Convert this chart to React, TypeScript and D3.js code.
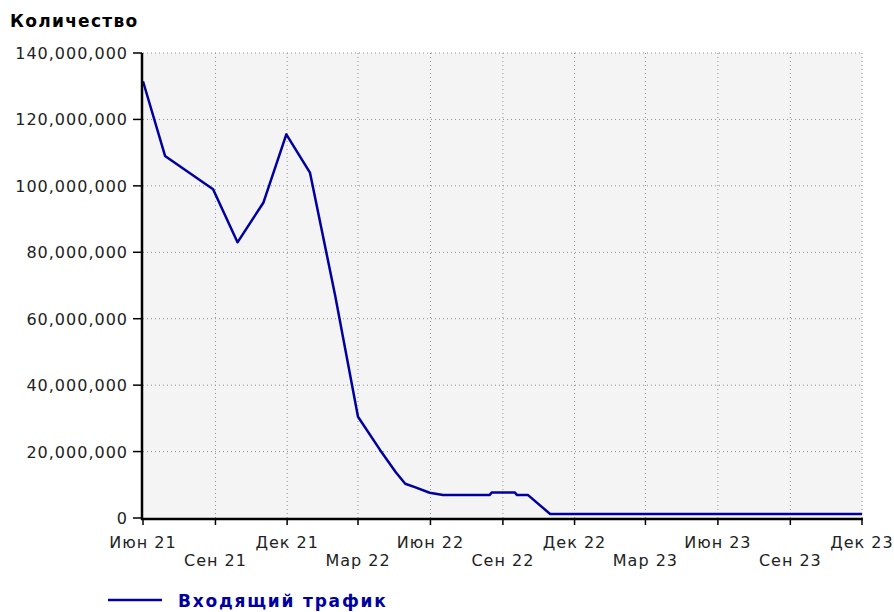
import * as d3 from 'd3';

const parseDay = d3.timeParse('%Y-%m-%d');

// monthly-ish readings of incoming traffic
const trafficDates = [
  '2021-06-01', '2021-06-29', '2021-08-29', '2021-09-29', '2021-11-01', '2021-11-30',
  '2021-12-30', '2022-01-31', '2022-03-01', '2022-03-29', '2022-04-18', '2022-04-30',
  '2022-05-13', '2022-05-31', '2022-06-17', '2022-08-15', '2022-08-18', '2022-09-16',
  '2022-09-19', '2022-10-03', '2022-10-31', '2023-12-01',
];
const trafficValues = [
  131500000, 109000000, 99000000, 83000000, 95000000, 115500000,
  104000000, 67000000, 30500000, 20500000, 13800000, 10300000,
  9200000, 7600000, 6900000, 6900000, 7700000, 7700000,
  6900000, 6900000, 1200000, 1200000,
];

const xTickLabels = [
  'Июн 21', 'Сен 21', 'Дек 21', 'Мар 22', 'Июн 22', 'Сен 22',
  'Дек 22', 'Мар 23', 'Июн 23', 'Сен 23', 'Дек 23',
];
const yTicks = [0, 20000000, 40000000, 60000000, 80000000, 100000000, 120000000, 140000000];

const seriesName = 'Входящий трафик';
const yTitle = 'Количество';

const width = 894;
const height = 612;
const margin = { left: 143, right: 32, top: 53, bottom: 94 };
const lineColor = '#0000a0';
const font = '"DejaVu Sans", Verdana, sans-serif';

export default function App() {
  const start = parseDay('2021-06-01')!;
  const end = parseDay('2023-12-01')!;
  const x = d3.scaleTime().domain([start, end]).range([margin.left, width - margin.right]);
  const y = d3.scaleLinear().domain([0, 140000000]).range([height - margin.bottom, margin.top]);

  const tickDates = d3.timeMonth.range(start, d3.timeDay.offset(end, 1), 3);
  const points = trafficDates.map((d, i) => ({ date: parseDay(d)!, value: trafficValues[i] }));

  const line = d3.line<{ date: Date; value: number }>()
    .x(d => x(d.date))
    .y(d => y(d.value));

  const fmt = d3.format(',');
  const [x0, x1] = x.range();
  const [y0, y1] = y.range();

  return (
    <div style={{ position: 'absolute', left: 0, top: 0 }}>
      <svg width={width} height={height} style={{ display: 'block', background: '#fff' }}>
        <text x={10} y={27} fontFamily={font} fontWeight="bold" fontSize={17} letterSpacing={1.3} fill="#000">
          {yTitle}
        </text>

        {/* plot background */}
        <rect x={x0} y={y1} width={x1 - x0} height={y0 - y1} fill="#f4f4f4" />

        {/* grid */}
        {yTicks.slice(1).map(t => (
          <line key={'gy' + t} x1={x0} x2={x1} y1={y(t)} y2={y(t)}
            stroke="#8c8c8c" strokeWidth={1} strokeDasharray="1,3" />
        ))}
        {tickDates.slice(1).map((d, i) => (
          <line key={'gx' + i} x1={x(d)} x2={x(d)} y1={y1} y2={y0}
            stroke="#8c8c8c" strokeWidth={1} strokeDasharray="1,3" />
        ))}

        {/* data */}
        <path d={line(points) || ''} fill="none" stroke={lineColor} strokeWidth={2.5} strokeLinejoin="round" />

        {/* axes */}
        <line x1={x0 - 1} x2={x0 - 1} y1={y1} y2={y0 + 2} stroke="#000" strokeWidth={2.5} />
        <line x1={x0 - 2} x2={x1 + 1} y1={y0 + 1} y2={y0 + 1} stroke="#000" strokeWidth={2.5} />

        {yTicks.map(t => (
          <g key={'yt' + t}>
            <line x1={x0 - 10} x2={x0 - 1} y1={y(t)} y2={y(t)} stroke="#000" strokeWidth={1.5} />
            <text x={x0 - 15} y={y(t) + 6} textAnchor="end" fontFamily={font} fontSize={16}
              letterSpacing={1} fill="#222">
              {fmt(t)}
            </text>
          </g>
        ))}

        {tickDates.map((d, i) => (
          <g key={'xt' + i}>
            <line x1={x(d)} x2={x(d)} y1={y0 + 1} y2={y0 + 7} stroke="#000" strokeWidth={1.5} />
            <text x={x(d)} y={i % 2 === 0 ? y0 + 30 : y0 + 48} textAnchor="middle" fontFamily={font}
              fontSize={16} letterSpacing={1} fill="#222">
              {xTickLabels[i]}
            </text>
          </g>
        ))}

        {/* legend */}
        <line x1={108} x2={162} y1={600} y2={600} stroke={lineColor} strokeWidth={2.5} />
        <text x={178} y={607} fontFamily={font} fontWeight="bold" fontSize={17} letterSpacing={1.8}
          fill={lineColor}>
          {seriesName}
        </text>
      </svg>
    </div>
  );
}
